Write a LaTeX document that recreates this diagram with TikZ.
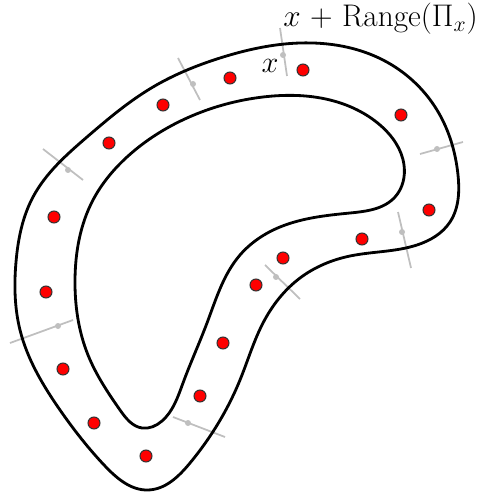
\documentclass[tikz,border=0pt]{standalone}
\usepackage{amsmath}
\usepackage{tikz}
\usetikzlibrary{positioning,hobby}

\begin{document}
\begin{tikzpicture}[x=0.02cm, y=-0.02cm,
    band/.style={line width=1.6pt, black},
    fiber/.style={black!25, line width=1pt},
    fibdot/.style={circle, fill=black!25, inner sep=0pt, minimum size=0.12cm},
    sample/.style={circle, fill=red, draw=black!80, line width=0.6pt,
      inner sep=0pt, minimum size=0.24cm},
    lbl/.style={font=\fontsize{17.28}{20}\selectfont, inner sep=0pt} ]

    \useasboundingbox (0,0) rectangle (482,499);

    \draw[fiber] (280,28) -- (287,76);   \node[fibdot] (p1) at (283,55) {};
    \draw[fiber] (178,58) -- (200,100);  \node[fibdot] (p2) at (193,84) {};
    \draw[fiber] (43,149) -- (83,180);   \node[fibdot] (p3) at (68,170) {};
    \draw[fiber] (10,343) -- (73,320);   \node[fibdot] (p4) at (58,326) {};
    \draw[fiber] (173,417) -- (225,437); \node[fibdot] (p5) at (188,423) {};
    \draw[fiber] (265,265) -- (300,299); \node[fibdot] (p6) at (276,277) {};
    \draw[fiber] (398,212) -- (411,268); \node[fibdot] (p7) at (402,232) {};
    \draw[fiber] (420,154) -- (463,142); \node[fibdot] (p8) at (437,149) {};

    \draw[band] plot[closed hobby] coordinates {
      (300,43) (383,60) (437,110) (458,175) (450,222) (417,245) (350,256)
      (300,278) (263,323) (240,380) (190,463) (148,490) (105,466) (60,410)
      (20,330) (16,262) (33,197) (87,137) (153,87) (220,58) };

    \draw[band] plot[closed hobby] coordinates {
      (263,97) (330,100) (380,125) (404,165) (395,197) (350,213) (280,227)
      (240,255) (207,323) (183,383) (162,421) (142,428) (120,410) (88,355)
      (75,280) (93,200) (127,157) (187,118) };

    \foreach \px/\py [count=\i] in {303/70, 230/78, 163/105, 109/143, 54/217,
        46/292, 63/369, 94/423, 146/456, 200/396, 223/343, 256/285, 283/258,
        362/239, 429/210, 401/115}
      \node[sample] (s\i) at (\px,\py) {};

    \node[lbl, anchor=base east, scale=1.03] (range) at (478,27)
      {$x$ + Range$(\Pi_x)$};
    \node[lbl] (xlab) at (270,66) {$x$};

  \end{tikzpicture}
\end{document}
